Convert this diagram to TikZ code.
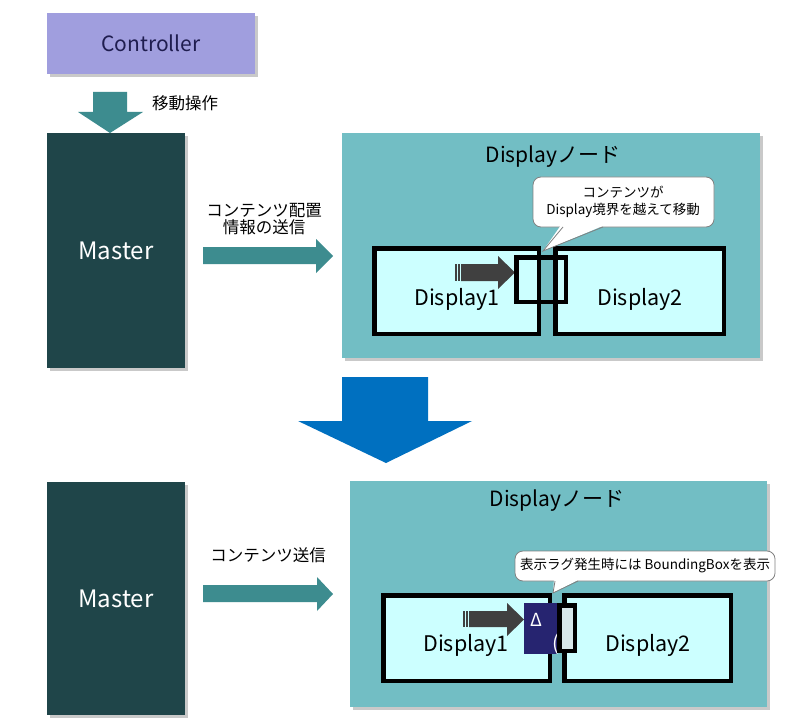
\documentclass[tikz,border=0pt]{standalone}
\usepackage{fontspec}
\setmainfont{Noto Sans CJK JP}
\usetikzlibrary{shadows}
\definecolor{ctrlfill}{HTML}{A09EDE}
\definecolor{ctrltext}{HTML}{1F1D4F}
\definecolor{masterfill}{HTML}{1F4549}
\definecolor{tealarrow}{HTML}{3D8C8F}
\definecolor{panelfill}{HTML}{72BEC4}
\definecolor{dispfill}{HTML}{CCFFFF}
\definecolor{darkarrow}{HTML}{404040}
\definecolor{bigblue}{HTML}{0070C0}
\definecolor{navybox}{HTML}{262470}
\definecolor{bbfill}{HTML}{D8E8EA}
\tikzset{
  shad/.style={drop shadow={shadow xshift=3pt,shadow yshift=-3pt,opacity=.35,fill=black!60}},
  ctrlbox/.style={fill=ctrlfill,text=ctrltext,minimum width=208pt,minimum height=61pt,inner sep=0pt,shad,font=\fontsize{21}{24}\selectfont},
  masterbox/.style={fill=masterfill,text=white,minimum width=138pt,inner sep=0pt,shad,font=\fontsize{24}{27}\selectfont},
  panelbox/.style={fill=panelfill,inner sep=0pt,shad},
  dispbox/.style={fill=dispfill,draw=black,line width=4.5pt,inner sep=0pt,minimum height=85.5pt,drop shadow={shadow xshift=2pt,shadow yshift=-2pt,opacity=.3,fill=black!60}},
  disptext/.style={font=\fontsize{21.5}{24}\selectfont,inner sep=0pt},
  titletext/.style={font=\fontsize{21}{24}\selectfont,inner sep=0pt},
  jptext/.style={font=\fontsize{16.5}{20}\selectfont,inner sep=0pt,align=center},
  calltext/.style={font=\fontsize{13.5}{17}\selectfont,inner sep=0pt,align=center},
  callbox/.style={fill=white,draw=black!50,line width=0.8pt,rounded corners=8pt,inner sep=0pt},
  movebox/.style={draw=black,line width=4.5pt,inner sep=0pt},
}
\begin{document}
\begin{tikzpicture}[x=1pt,y=-1pt]
\useasboundingbox (0,0) rectangle (799,727);
\fill[white] (0,0) rectangle (799,727);

% ---------- top half ----------
\node[ctrlbox] (ctrl) at (151,43.5) {Controller};
\node[masterbox,minimum height=235pt] (m1) at (116,250.5) {Master};
% down arrow controller -> master
\fill[tealarrow] (93,92) -- (127,92) -- (127,112) -- (143,112) -- (110,133) -- (78,112) -- (93,112) -- cycle;
\node[jptext,anchor=west] (op) at (152,103) {移動操作};

% teal arrow to panel 1
\fill[tealarrow] (203,247) -- (316,247) -- (316,239) -- (333,256) -- (316,273) -- (316,264) -- (203,264) -- cycle;
\node[jptext] (send1) at (264,219) {コンテンツ配置\\[-3pt]情報の送信};

\node[panelbox,minimum width=418pt,minimum height=225pt] (p1) at (551,245.5) {};
\node[titletext] (t1) at (553,157) {Displayノード};
\node[dispbox,minimum width=164.5pt] (d1a) at (456.5,291) {};
\node[dispbox,minimum width=168.5pt] (d2a) at (639.5,291) {};
\node[disptext] at (457,299) {Display1};
\node[disptext] at (640,299) {Display2};
% dark moving arrow
\fill[darkarrow] (455,264) rectangle (456.5,281);
\fill[darkarrow] (458,264) rectangle (459.5,281);
\fill[darkarrow] (461,264) -- (498,264) -- (498,256) -- (515,272.5) -- (498,289) -- (498,281) -- (461,281) -- cycle;
\node[movebox,minimum width=49.5pt,minimum height=44.5pt] (ca) at (541,279.5) {};
% callout 1
\node[callbox,minimum width=181pt,minimum height=50pt] (cb1) at (623.5,202) {};
\fill[white] (561,225) -- (543,251) -- (605,225) -- cycle;
\draw[black!50,line width=0.8pt] (563,227) -- (543,251) -- (603,227);
\node[calltext] (ct1) at (623,202) {コンテンツが\\Display境界を越えて移動};

% ---------- big blue arrow ----------
\fill[bigblue] (342,377) -- (428,377) -- (428,421) -- (472,421) -- (386,463) -- (298,421) -- (342,421) -- cycle;

% ---------- bottom half ----------
\node[masterbox,minimum height=233pt] (m2) at (116,598.5) {Master};
\fill[tealarrow] (203,585) -- (317,585) -- (317,577) -- (333,594) -- (317,611) -- (317,602) -- (203,602) -- cycle;
\node[jptext] (send2) at (268,555) {コンテンツ送信};

\node[panelbox,minimum width=417pt,minimum height=226pt] (p2) at (558.5,594) {};
\node[titletext] (t2) at (557,501) {Displayノード};
\node[dispbox,minimum width=166.5pt] (d1b) at (466.5,638) {};
\node[dispbox,minimum width=166.5pt] (d2b) at (647.5,638) {};
\node[disptext] at (466,645) {Display1};
\node[disptext] at (648,645) {Display2};
\fill[darkarrow] (463,611) rectangle (464.5,627);
\fill[darkarrow] (466,611) rectangle (467.5,627);
\fill[darkarrow] (469,611) -- (507,611) -- (507,603) -- (524,619.5) -- (507,636) -- (507,627) -- (469,627) -- cycle;
\node[fill=navybox,inner sep=0pt,minimum width=33pt,minimum height=51pt] (nv) at (540.5,628.5) {};
\begin{scope}
\clip (nv.south west) rectangle (nv.north east);
\node[text=white,font=\fontsize{18}{20}\selectfont,inner sep=0pt] at (536,620) {Δ};
\node[text=white,font=\fontsize{20}{22}\selectfont,inner sep=0pt] at (556,644) {(};
\end{scope}
\node[fill=bbfill,draw=black,line width=4.5pt,inner sep=0pt,minimum width=15.5pt,minimum height=45.5pt] (bb) at (567,628) {};
% callout 2
\node[callbox,minimum width=260pt,minimum height=30pt] (cb2) at (645,566) {};
\fill[white] (554,579) -- (553,593) -- (580,579) -- cycle;
\draw[black!50,line width=0.8pt] (555,581) -- (553,593) -- (578,581);
\node[calltext] (ct2) at (645,566) {表示ラグ発生時には BoundingBoxを表示};
\end{tikzpicture}
\end{document}
